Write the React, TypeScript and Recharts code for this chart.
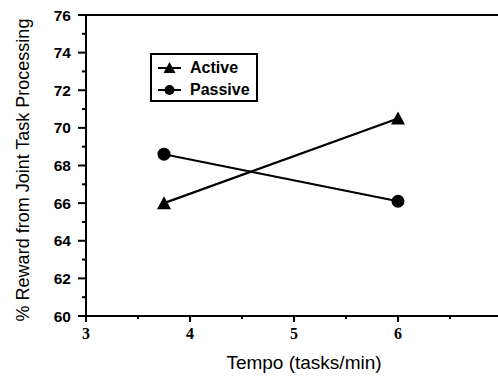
import { LineChart, Line, XAxis, YAxis, ReferenceLine } from 'recharts'

const tempo = [3.75, 6]
const active = [66.0, 70.5]
const passive = [68.6, 66.1]
const xTicks = [3, 3.5, 4, 4.5, 5, 5.5, 6, 6.5, 7]
const yTicks = [60, 61, 62, 63, 64, 65, 66, 67, 68, 69, 70, 71, 72, 73, 74, 75, 76]

const data = tempo.map((t, i) => ({ tempo: t, active: active[i], passive: passive[i] }))

const sans = 'Arial, "Liberation Sans", Helvetica, sans-serif'
const serif = '"Times New Roman", "Liberation Serif", serif'

function YTick({ x, y, payload }: any) {
  const major = payload.value % 2 === 0
  return (
    <g>
      <line x1={x - (major ? 8 : 4)} x2={x} y1={y} y2={y} stroke="#000" strokeWidth={2} />
      {major && (
        <text x={x - 15} y={y} dy={5.5} textAnchor="end" fontFamily={sans} fontWeight="bold" fontSize={15.5} fill="#000">
          {payload.value}
        </text>
      )}
    </g>
  )
}

function XTick({ x, y, payload }: any) {
  const major = Number.isInteger(payload.value)
  return (
    <g>
      <line x1={x} x2={x} y1={y} y2={y + (major ? 6 : 3)} stroke="#000" strokeWidth={2} />
      {major && (
        <text x={x} y={y + 23} textAnchor="middle" fontFamily={serif} fontWeight="bold" fontSize={16} fill="#000">
          {payload.value}
        </text>
      )}
    </g>
  )
}

function Triangle({ cx, cy }: any) {
  if (cx == null || cy == null) return null
  return <polygon points={`${cx},${cy - 7} ${cx - 7},${cy + 6} ${cx + 7},${cy + 6}`} fill="#000" />
}

function Dot({ cx, cy }: any) {
  if (cx == null || cy == null) return null
  return <circle cx={cx} cy={cy} r={6.5} fill="#000" />
}

function LegendBox() {
  const row = (label: string, kind: 'tri' | 'dot') => (
    <div style={{ display: 'flex', alignItems: 'center', height: 22 }}>
      <svg width={30} height={16}>
        <line x1={4} x2={27} y1={8} y2={8} stroke="#000" strokeWidth={2} />
        {kind === 'tri' ? (
          <polygon points="15.5,2 9.5,13 21.5,13" fill="#000" />
        ) : (
          <circle cx={15.5} cy={8} r={5} fill="#000" />
        )}
      </svg>
      <span style={{ marginLeft: 6, fontFamily: sans, fontWeight: 'bold', fontSize: 16 }}>{label}</span>
    </div>
  )
  return (
    <div
      style={{
        position: 'absolute',
        left: 150,
        top: 53,
        border: '2px solid #000',
        width: 108,
        height: 49,
        padding: '2px 0 0 2px',
        boxSizing: 'border-box',
        background: '#fff',
      }}
    >
      {row('Active', 'tri')}
      {row('Passive', 'dot')}
    </div>
  )
}

export default function App() {
  return (
    <div style={{ position: 'absolute', left: 0, top: 0, width: 498, height: 377, overflow: 'hidden', background: '#fff' }}>
      <LineChart width={520} height={377} data={data} margin={{ top: 15, right: 18, left: 0, bottom: 0 }}>
        <XAxis
          dataKey="tempo"
          type="number"
          domain={[3, 7]}
          ticks={xTicks}
          interval={0}
          height={61}
          tickSize={0}
          tickMargin={0}
          tick={<XTick />}
          axisLine={{ stroke: '#000', strokeWidth: 2 }}
          tickLine={false}
          label={() => (
            <text x={304} y={369} textAnchor="middle" fontFamily={sans} fontSize={19} fill="#000">
              Tempo (tasks/min)
            </text>
          )}
        />
        <YAxis
          type="number"
          domain={[60, 76]}
          ticks={yTicks}
          interval={0}
          width={86}
          tickSize={0}
          tickMargin={0}
          tick={<YTick />}
          axisLine={{ stroke: '#000', strokeWidth: 2 }}
          tickLine={false}
          label={() => (
            <text
              x={29}
              y={170}
              transform="rotate(-90, 29, 170)"
              textAnchor="middle"
              fontFamily={sans}
              fontSize={18}
              fill="#000"
            >
              % Reward from Joint Task Processing
            </text>
          )}
        />
        <ReferenceLine y={76} stroke="#000" strokeWidth={2} />
        <ReferenceLine x={7} stroke="#000" strokeWidth={2} />
        <Line dataKey="active" name="Active" stroke="#000" strokeWidth={2.2} dot={<Triangle />} isAnimationActive={false} />
        <Line dataKey="passive" name="Passive" stroke="#000" strokeWidth={2.2} dot={<Dot />} isAnimationActive={false} />
      </LineChart>
      <LegendBox />
    </div>
  )
}
